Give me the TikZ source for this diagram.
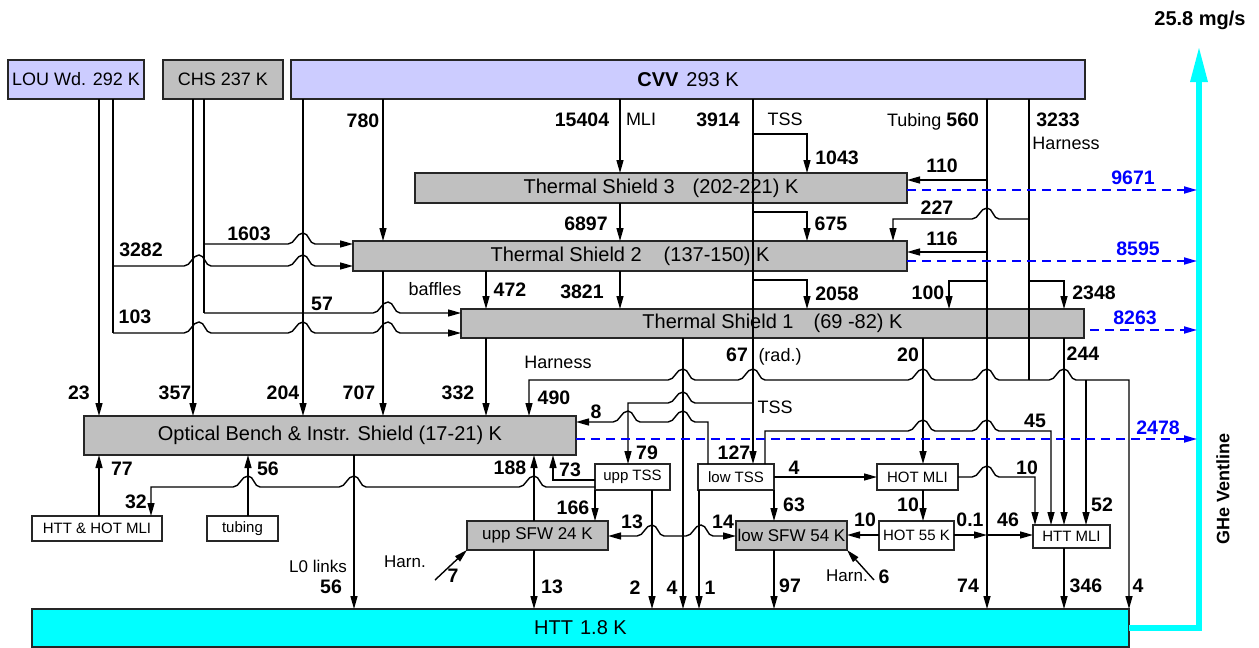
\documentclass[tikz,border=0pt]{standalone}
\usepackage{fontspec}
\setmainfont{Liberation Sans}
\usetikzlibrary{arrows.meta}
\definecolor{lav}{HTML}{CCCCFF}
\definecolor{gbox}{HTML}{C0C0C0}
\definecolor{cy}{HTML}{00FFFF}
\definecolor{bl}{HTML}{0000FF}
\newcommand{\bnm}[1]{{\bfseries\fontsize{19.5}{21}\selectfont #1}}
\begin{document}
\begin{tikzpicture}[x=1pt,y=-1pt,
  box/.style={draw=black!85, line width=1.8pt, inner sep=0pt, outer sep=0pt, align=center},
  bigf/.style={font=\fontsize{20}{22}\selectfont},
  medf/.style={font=\fontsize{18}{20}\selectfont},
  gsf/.style={font=\fontsize{17}{19}\selectfont},
  smf/.style={font=\fontsize{15}{17}\selectfont},
  num/.style={font=\bfseries\fontsize{19.5}{21}\selectfont, inner sep=0pt, text depth=0pt},
  lbl/.style={font=\fontsize{18}{20}\selectfont, inner sep=0pt, text depth=0pt},
  slbl/.style={font=\fontsize{17}{19}\selectfont, inner sep=0pt, text depth=0pt},
  bnum/.style={num, text=bl},
  conn/.style={line width=1.4pt, -{Triangle[length=13pt,width=7pt]}},
  rconn/.style={line width=1.4pt, {Triangle[length=13pt,width=7pt]}-},
  wire/.style={line width=1.4pt},
  vent/.style={line width=1.8pt, bl, dash pattern=on 9pt off 6pt, -{Triangle[length=13pt,width=7pt]}},
  hop/.style 2 args={insert path={-- ({#1-15},#2) .. controls ({#1-8},#2) and ({#1-7},{#2-11}) .. (#1,{#2-11}) .. controls ({#1+6},{#2-11}) and ({#1+6},#2) .. ({#1+12},#2)}},
]
\useasboundingbox (0,0) rectangle (1259,648);

% ---------- boxes ----------
\node[box, fill=lav, minimum width=136pt, minimum height=39pt, medf] (lou) at (76,79.5) {LOU Wd. 292 K};
\node[box, fill=gbox, minimum width=120pt, minimum height=39pt, medf] (chs) at (223,79.5) {CHS 237 K};
\node[box, fill=lav, minimum width=794pt, minimum height=39pt, bigf] (cvv) at (688,79.5) {{\bfseries CVV}\hspace{8pt}293 K};
\node[box, fill=gbox, minimum width=492pt, minimum height=30pt, bigf] (ts3) at (661,188) {Thermal Shield 3\hspace{18pt}(202-221) K};
\node[box, fill=gbox, minimum width=554pt, minimum height=30pt, bigf] (ts2) at (630,256) {Thermal Shield 2\hspace{22pt}(137-150) K};
\node[box, fill=gbox, minimum width=623pt, minimum height=29pt, bigf] (ts1) at (772.5,323.5) {Thermal Shield 1\hspace{20pt}(69 -82) K};
\node[box, fill=gbox, minimum width=492pt, minimum height=39pt, bigf] (ob) at (330,435.5) {Optical Bench \& Instr. Shield (17-21) K};
\node[box, fill=white, minimum width=130pt, minimum height=25pt, smf] (hhm) at (97,528.5) {HTT \& HOT MLI};
\node[box, fill=white, minimum width=71pt, minimum height=25pt, smf] (tub) at (242.5,528.5) {tubing};
\node[box, fill=cy, minimum width=1097pt, minimum height=38pt, bigf] (htt) at (580.5,628) {HTT\hspace{7pt}1.8 K};
\node[box, fill=white, minimum width=75pt, minimum height=26pt, smf] (upptss) at (632.5,477) {upp TSS};
\node[box, fill=white, minimum width=76pt, minimum height=26pt, smf] (lowtss) at (736,477) {low TSS};
\node[box, fill=white, minimum width=81pt, minimum height=26pt, smf] (hotmli) at (917.5,477) {HOT MLI};
\node[box, fill=gbox, minimum width=141pt, minimum height=29pt, gsf] (uppsfw) at (537.5,535.5) {upp SFW 24 K};
\node[box, fill=gbox, minimum width=111pt, minimum height=29pt, gsf] (lowsfw) at (791.5,535.5) {low SFW 54 K};
\node[box, fill=white, minimum width=75pt, minimum height=29pt, smf] (hot55) at (916.5,535.5) {HOT 55 K};
\node[box, fill=white, minimum width=77pt, minimum height=23pt, smf] (httmli) at (1071.5,536.5) {HTT MLI};

% ---------- ventline ----------
\coordinate (vbot) at (1199,628);
\coordinate (vtop) at (1199,82);
\draw[cy, line width=6pt] (htt.east |- vbot) -- (vbot) -- (vtop);
\fill[cy] (1190,82) -- (1208,82) -- (1199,48) -- cycle;

% ---------- LOU ----------
\draw[conn] (lou.south -| 99,0) -- (ob.north -| 99,0);
\draw[wire] (lou.south -| 113,0) -- (113,333);
\draw[conn] (113,266) [hop={199}{266}] [hop={303}{266}] -- (ts2.west |- 0,266);
\draw[conn] (113,333) [hop={199}{333}] [hop={303}{333}] [hop={388}{333}] -- (ts1.west |- 0,333);

% ---------- CHS ----------
\draw[conn] (chs.south -| 193,0) -- (ob.north -| 193,0);
\draw[wire] (chs.south -| 204,0) -- (204,313);
\draw[conn] (204,244) [hop={303}{244}] -- (ts2.west |- 0,244);
\draw[conn] (204,313) [hop={388}{313}] -- (ts1.west |- 0,313);

% ---------- CVV ----------
\draw[conn] (cvv.south -| 303,0) -- (ob.north -| 303,0);
\draw[conn] (cvv.south -| 383,0) -- (ts2.north -| 383,0);
\draw[conn] (ts2.south -| 383,0) -- (ob.north -| 383,0);
\draw[conn] (cvv.south -| 620,0) -- (ts3.north -| 620,0);
\draw[conn] (ts3.south -| 620,0) -- (ts2.north -| 620,0);
\draw[conn] (ts2.south -| 620,0) -- (ts1.north -| 620,0);
\draw[conn] (ts2.south -| 486,0) -- (ts1.north -| 486,0);
\draw[conn] (ts1.south -| 486,0) -- (ob.north -| 486,0);

% TSS
\draw[conn] (cvv.south -| 753,0) -- (lowtss.north -| 753,0);
\draw[conn] (753,134) -- (807,134) -- (ts3.north -| 807,0);
\draw[conn] (753,212) -- (807,212) -- (ts2.north -| 807,0);
\draw[conn] (753,280) -- (807,280) -- (ts1.north -| 807,0);
\draw[rconn] (upptss.north -| 628,0) -- (628,403) [hop={683}{403}] -- (753,403);

% Tubing
\draw[conn] (cvv.south -| 987,0) -- (htt.north -| 987,0);
\draw[conn] (987,180) -- (ts3.east |- 0,180);
\draw[conn] (987,252) -- (ts2.east |- 0,252);
\draw[conn] (987,281) -- (949,281) -- (ts1.north -| 949,0);

% Harness
\draw[wire] (cvv.south -| 1029,0) -- (1029,380);
\draw[rconn] (ts2.north -| 893,0) -- (893,219) [hop={987}{219}] -- (1029,219);
\draw[conn] (1029,281) -- (1064,281) -- (ts1.north -| 1064,0);
\draw[rconn] (ob.north -| 529,0) -- (529,380) [hop={683}{380}] [hop={753}{380}] [hop={923}{380}] [hop={987}{380}] -- (1029,380);
\draw[conn] (1029,380) [hop={1064}{380}] -- (1129,380) -- (htt.north -| 1129,0);
\draw[conn] (1086,380) -- (httmli.north -| 1086,0);

% TS1 downward
\draw[conn] (ts1.south -| 683,0) -- (htt.north -| 683,0);
\draw[rconn] (uppsfw.east |- 0,536) [hop={652}{536}] -- (683,536);
\draw[conn] (683,536) [hop={701}{536}] -- (lowsfw.west |- 0,536);
\draw[conn] (ts1.south -| 923,0) -- (hotmli.north -| 923,0);
\draw[conn] (hotmli.south -| 923,0) -- (hot55.north -| 923,0);
\draw[conn] (ts1.south -| 1064,0) -- (httmli.north -| 1064,0);

% low TSS
\draw[rconn] (ob.east |- 0,422) [hop={628}{422}] [hop={683}{422}] -- (708,422) -- (lowtss.north -| 708,0);
\draw[conn] (lowtss.north -| 765,0) -- (765,431) [hop={923}{431}] [hop={987}{431}] -- (1051,431) -- (httmli.north -| 1051,0);
\draw[conn] (lowtss.east |- 0,477) -- (hotmli.west |- 0,477);
\draw[conn] (hotmli.east |- 0,477) [hop={987}{477}] -- (1035,477) -- (httmli.north -| 1035,0);
\draw[conn] (lowtss.south -| 774,0) -- (lowsfw.north -| 774,0);
\draw[conn] (lowtss.south -| 699,0) -- (htt.north -| 699,0);

% upp TSS
\draw[conn] (upptss.west |- 0,480) -- (553,480) -- (ob.south -| 553,0);
\draw[conn] (upptss.south -| 595,0) -- (uppsfw.north -| 595,0);
\draw[conn] (upptss.south -| 652,0) -- (htt.north -| 652,0);
\draw[rconn] (hhm.north -| 151,0) -- (151,487) [hop={248}{487}] [hop={354}{487}] [hop={534}{487}] -- (upptss.west |- 0,487);

% OB bottom and SFW
\draw[conn] (hhm.north -| 99,0) -- (ob.south -| 99,0);
\draw[conn] (tub.north -| 248,0) -- (ob.south -| 248,0);
\draw[conn] (ob.south -| 354,0) -- (htt.north -| 354,0);
\draw[conn] (uppsfw.north -| 534,0) -- (ob.south -| 534,0);
\draw[conn] (uppsfw.south -| 534,0) -- (htt.north -| 534,0);
\draw[conn] (lowsfw.south -| 774,0) -- (htt.north -| 774,0);
\draw[conn] (httmli.south -| 1064,0) -- (htt.north -| 1064,0);

% HOT 55 K
\draw[conn] (hot55.west |- 0,535) -- (lowsfw.east |- 0,535);
\coordinate (tj) at (987,535);
\draw[conn] (hot55.east |- tj) -- (tj);
\draw[conn] (tj) -- (httmli.west |- tj);

% Harn
\coordinate (harnL) at (435,580);
\coordinate (harnR) at (874,580);
\draw[conn] (harnL) -- (uppsfw.south west);
\draw[conn] (harnR) -- (lowsfw.south east);

% blue dashed
\coordinate (v1) at (1197,190);
\coordinate (v2) at (1197,261);
\coordinate (v3) at (1197,330);
\coordinate (v4) at (1197,439);
\draw[vent] (ts3.east |- v1) -- (v1);
\draw[vent] (ts2.east |- v2) -- (v2);
\draw[vent] (1090,330) -- (v3);
\draw[vent] (ob.east |- v4) -- (v4);

% ---------- labels ----------
\node[font=\bfseries\fontsize{20}{22}\selectfont, inner sep=0pt] (rate) at (1200,20) {25.8 mg/s};
\node[font=\bfseries\fontsize{18}{20}\selectfont, inner sep=0pt, rotate=90] (ventl) at (1223,489) {GHe Ventline};

\node[num] (n780) at (363,121) {780};
\node[num] (n1603) at (249,234) {1603};
\node[num] (n3282) at (141,250) {3282};
\node[num] (n57) at (322,304) {57};
\node[num] (n103) at (135,317) {103};
\node[num] (n15404) at (582,120) {15404};
\node[lbl] (tmli) at (641,119) {MLI};
\node[num] (n3914) at (718,120) {3914};
\node[lbl] (ttss) at (785,119) {TSS};
\node[num] (n1043) at (837,158) {1043};
\node[num] (n6897) at (586,224) {6897};
\node[num] (n675) at (831,224) {675};
\node[lbl] (tbaf) at (435,289) {baffles};
\node[num] (n472) at (510,290) {472};
\node[num] (n3821) at (582,292) {3821};
\node[num] (n2058) at (837,294) {2058};
\node[lbl] (ttub) at (933,120) {Tubing \bnm{560}};
\node[num] (n3233) at (1058,120) {3233};
\node[lbl] (tharn) at (1066,143) {Harness};
\node[num] (n110) at (942,166) {110};
\node[num] (n227) at (937,208) {227};
\node[num] (n116) at (942,239) {116};
\node[num] (n100) at (928,293) {100};
\node[num] (n2348) at (1094,293) {2348};
\node[bnum] (b9671) at (1133,178) {9671};
\node[bnum] (b8595) at (1138,249) {8595};
\node[bnum] (b8263) at (1135,318) {8263};
\node[bnum] (b2478) at (1158,428) {2478};
\node[num] (n23) at (79,393) {23};
\node[num] (n357) at (175,393) {357};
\node[num] (n204) at (283,393) {204};
\node[num] (n707) at (359,393) {707};
\node[num] (n332) at (458,393) {332};
\node[num] (n490) at (554,398) {490};
\node[lbl] (tharn2) at (558,362) {Harness};
\node[num] (n67) at (737,355) {67};
\node[lbl] (trad) at (780,355) {(rad.)};
\node[num] (n20) at (908,355) {20};
\node[num] (n244) at (1083,354) {244};
\node[lbl] (ttss2) at (775,407) {TSS};
\node[num] (n8) at (596,412) {8};
\node[num] (n45) at (1035,421) {45};
\node[num] (n79) at (647,453) {79};
\node[num] (n127) at (734,453) {127};
\node[num] (n188) at (510,468) {188};
\node[num] (n73) at (570,470) {73};
\node[num] (n4a) at (794,468) {4};
\node[num] (n10a) at (1027,468) {10};
\node[num] (n77) at (122,469) {77};
\node[num] (n56a) at (268,469) {56};
\node[num] (n32) at (136,502) {32};
\node[num] (n166) at (573,508) {166};
\node[num] (n63) at (794,505) {63};
\node[num] (n10b) at (908,505) {10};
\node[num] (n52) at (1102,505) {52};
\node[num] (n13a) at (632,522) {13};
\node[num] (n14) at (723,522) {14};
\node[num] (n10c) at (865,520) {10};
\node[num] (n01) at (970,520) {0.1};
\node[num] (n46) at (1008,520) {46};
\node[slbl] (tharnl) at (405,562) {Harn.};
\node[num] (n7) at (453,576) {7};
\node[slbl] (tharnr) at (847,576) {Harn.};
\node[num] (n6) at (884,577) {6};
\node[slbl] (tl0) at (318,566) {L0 links};
\node[num] (n56b) at (331,587) {56};
\node[num] (n13b) at (552,587) {13};
\node[num] (n2) at (635,588) {2};
\node[num] (n4b) at (672,588) {4};
\node[num] (n1) at (710,588) {1};
\node[num] (n97) at (790,586) {97};
\node[num] (n74) at (968,586) {74};
\node[num] (n346) at (1086,586) {346};
\node[num] (n4c) at (1138,586) {4};
\end{tikzpicture}
\end{document}
